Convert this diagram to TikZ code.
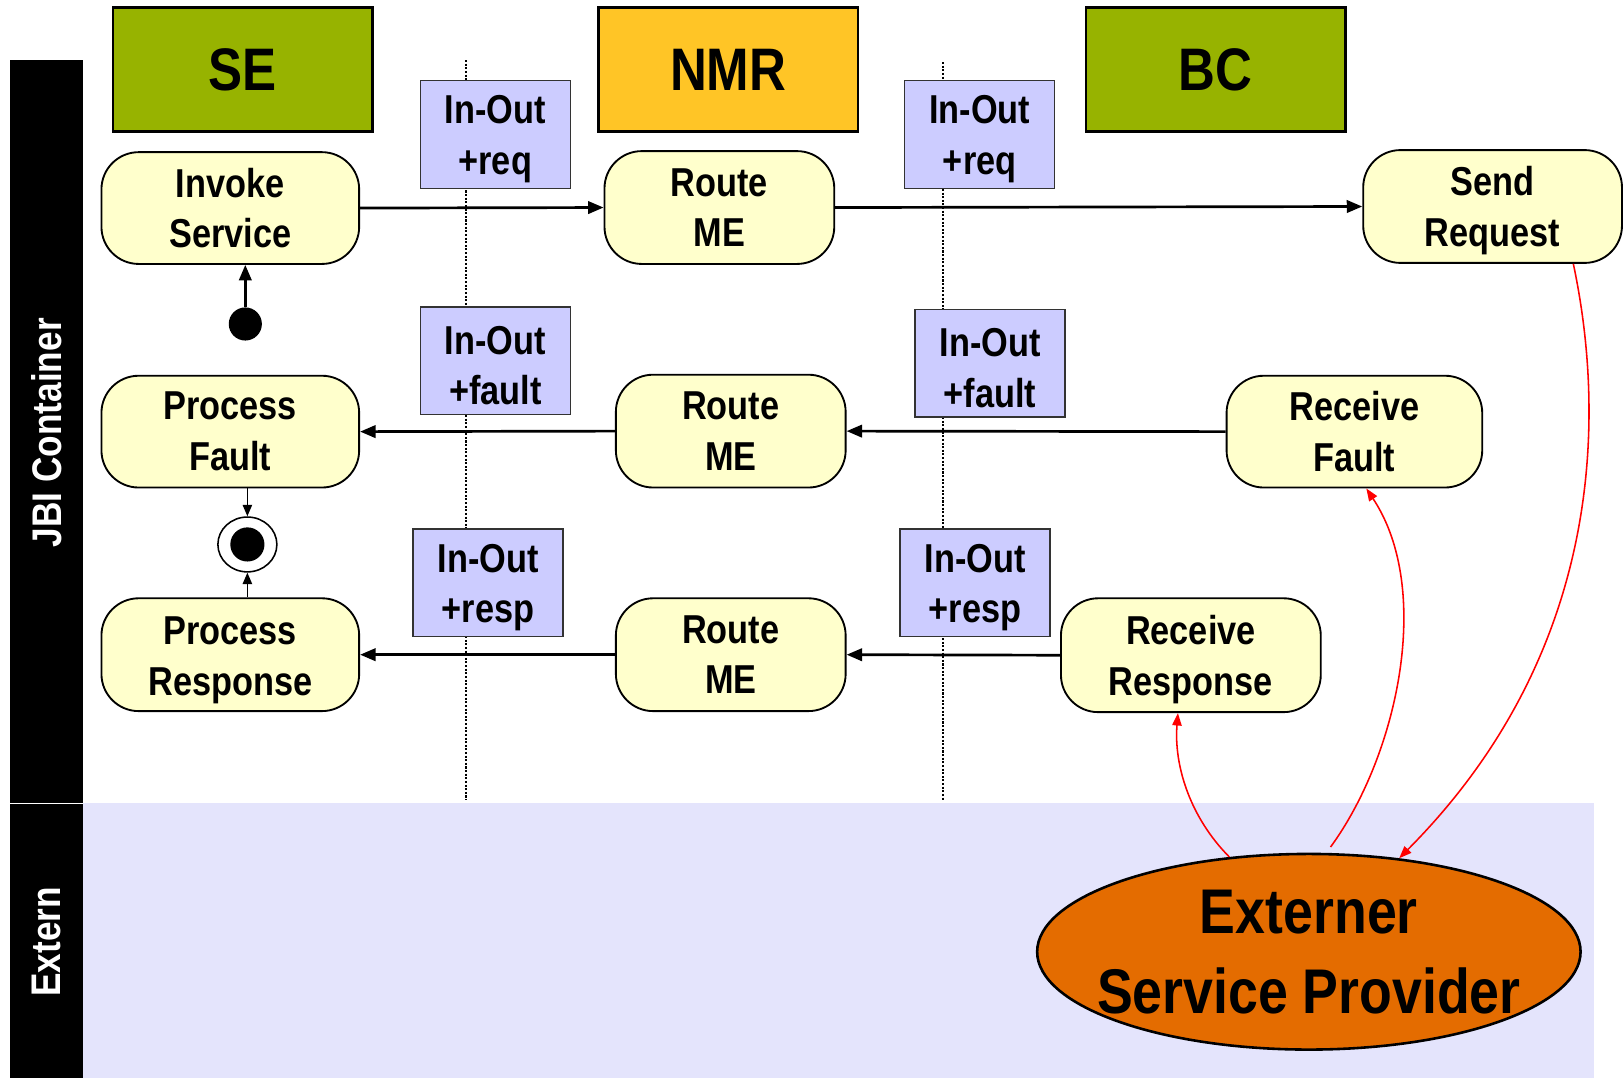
\documentclass[tikz,border=0pt]{standalone}
\usepackage{fontspec}
\setmainfont{Liberation Sans}[FakeStretch=0.85]
\usetikzlibrary{arrows.meta,shapes.geometric}
\definecolor{segreen}{HTML}{97B300}
\definecolor{nmrgold}{HTML}{FFC526}
\definecolor{procfill}{HTML}{FFFFCC}
\definecolor{lblfill}{HTML}{CCCCFF}
\definecolor{extband}{HTML}{E4E4FC}
\definecolor{extorange}{HTML}{E46C00}
\newcommand\procfont{\fontsize{39}{49}\selectfont\bfseries}
\newcommand\hdrfont{\fontsize{58}{64}\selectfont\bfseries}
\newcommand\barfont{\fontsize{40}{44}\selectfont\bfseries}
\newcommand\espfont{\fontsize{61}{77}\selectfont\bfseries}
\newcommand\lblstrut{\rule{0pt}{36.5pt}}
\begin{document}
\begin{tikzpicture}[x=1pt,y=-1pt,
  proc/.style={draw, fill=procfill, line width=1.8pt, rounded corners=36pt,
    minimum width=249pt, minimum height=108pt, align=center, inner sep=0pt, font=\procfont},
  lbl/.style={draw=black!80, fill=lblfill, line width=1.3pt,
    minimum width=145pt, minimum height=104pt, align=center, inner sep=0pt, font=\procfont},
  hdr/.style={draw, line width=2.5pt, minimum width=251pt, minimum height=120pt,
    inner sep=0pt, font=\hdrfont},
  arr/.style={line width=2.6pt, -{Triangle[length=15pt,width=12pt]}},
  arrthin/.style={line width=1.5pt, -{Triangle[length=11pt,width=9pt]}},
  redarr/.style={red, line width=1.5pt, -{Triangle[length=12pt,width=9pt]}},
  sepline/.style={dash pattern=on 2pt off 1.5pt, line width=1.7pt},
  bartext/.style={rotate=90, text=white, font=\barfont}
]
\useasboundingbox (0,0) rectangle (1568,1041);
\fill[white] (0,0) rectangle (1568,1041);
% bands
\fill[extband] (80,776) rectangle (1540,1041);
\fill[black] (10,58) rectangle (80,775.5);
\fill[black] (10,777) rectangle (80,1041);
\node[bartext] (jbi) at (45,418) {JBI Container};
\node[bartext] (extern) at (45,910) {Extern};
% separators
\draw[sepline] (450,58) -- (450,773);
\draw[sepline] (911,60) -- (911,773);
% headers
\node[hdr, fill=segreen] (se) at (234.5,67) {SE};
\node[hdr, fill=nmrgold] (nmr) at (703.5,67) {NMR};
\node[hdr, fill=segreen] (bc) at (1174.5,67) {BC};
% message labels
\node[lbl] (l1) at (478.5,130) {\lblstrut In-Out\\+req};
\node[lbl] (l2) at (946.5,130) {\lblstrut In-Out\\+req};
\node[lbl] (l3) at (478.5,348.5) {\lblstrut In-Out\\+fault};
\node[lbl] (l4) at (956.5,351) {\lblstrut In-Out\\+fault};
\node[lbl] (l5) at (471.5,563) {\lblstrut In-Out\\+resp};
\node[lbl] (l6) at (942,563) {\lblstrut In-Out\\+resp};
% activities
\node[proc] (invoke) at (222.5,201) {Invoke\\Service};
\node[proc, minimum width=222pt, minimum height=109pt] (route1) at (695,200.5) {Route\\ME};
\node[proc, minimum width=250pt, minimum height=109pt] (send) at (1442,199.5) {\lblstrut Send\\Request};
\node[proc] (pfault) at (222.5,417) {Process\\Fault};
\node[proc, minimum width=222pt, minimum height=109pt] (route2) at (706,416.5) {Route\\ME};
\node[proc, minimum width=247pt] (rfault) at (1308.5,417) {Receive\\Fault};
\node[proc, minimum height=109pt] (presp) at (222.5,632.5) {\rule{0pt}{38pt}Process\\Response};
\node[proc, minimum width=222pt, minimum height=109pt] (route3) at (706,632.5) {Route\\ME};
\node[proc, minimum width=251pt, minimum height=110pt] (rresp) at (1150.5,633) {\lblstrut Receive\\Response};
% start / end
\node[circle, fill=black, minimum size=32pt, inner sep=0pt] (start) at (237,313) {};
\node[ellipse, draw, fill=white, line width=1.5pt, minimum width=57pt, minimum height=53pt, inner sep=0pt] (endn) at (239,526) {};
\node[circle, fill=black, minimum size=33pt, inner sep=0pt] (endin) at (endn.center) {};
% control flow
\draw[arr] (start.north) -- (start.north |- invoke.south);
\draw[arrthin] (endn.north |- pfault.south) -- (endn.north);
\draw[arrthin] (endn.south |- presp.north) -- (endn.south);
% messages
\draw[arr] (invoke.east) -- (route1.west);
\draw[arr] (route1.east) -- (send.west);
\draw[arr] (route2.west) -- (pfault.east);
\draw[arr] (rfault.west) -- (route2.east);
\draw[arr] (route3.west) -- (presp.east);
\draw[arr] (rresp.west) -- (route3.east);
% external provider
\node[ellipse, draw, fill=extorange, line width=2.5pt, minimum width=525pt, minimum height=189pt,
  inner sep=0pt] (esp) at (1264.5,919.5) {};
\node[align=center, font=\espfont, inner sep=0pt] (esptext) at (esp.center) {Externer\\Service Provider};
\draw[redarr] ([xshift=78pt]send.south) .. controls (1555,420) and (1540,640) .. (esp.46);
\draw[redarr, shorten <=7pt] (esp.80) .. controls (1350,730) and (1385,570) .. ([xshift=11.5pt]rfault.south);
\draw[redarr] (esp.130) .. controls (1150,790) and (1134,740) .. ([xshift=-12.5pt]rresp.south);
\end{tikzpicture}
\end{document}
